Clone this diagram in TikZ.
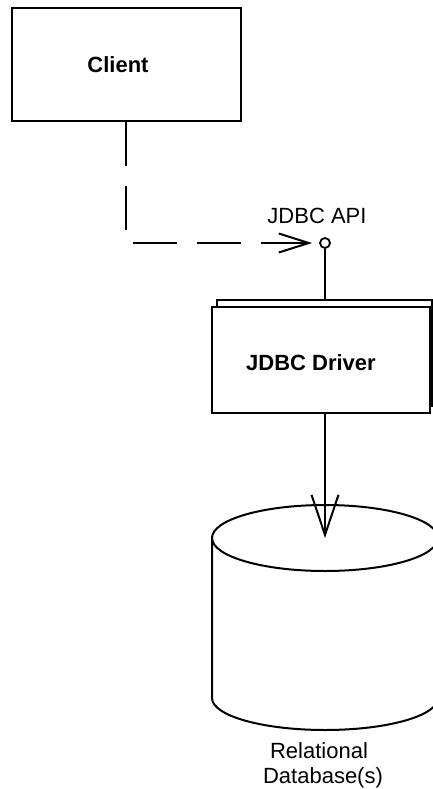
\documentclass[tikz,border=0pt]{standalone}
\usepackage{fontspec}
\setmainfont{Liberation Sans}
\usetikzlibrary{arrows.meta,calc}
\begin{document}
\begin{tikzpicture}[x=1pt,y=1pt,line width=2pt,
  box/.style={draw,rectangle,inner sep=0pt,fill=white},
  lbl/.style={font=\fontsize{22}{25}\selectfont,inner sep=0pt,anchor=base},
  blbl/.style={lbl,font=\fontsize{22}{25}\selectfont\bfseries},
  depend/.style={dash pattern=on 44pt off 20pt,-{Straight Barb[length=30pt,width=19pt]}},
  flow/.style={-{Straight Barb[length=40pt,width=27pt]}}]
\useasboundingbox (0,0) rectangle (433,-789);
\clip (0,0) rectangle (433,-789);
% Client
\node[box,minimum width=229pt,minimum height=113pt] (client) at (126.5,-64.5) {};
\node[blbl] (clienttext) at (118,-73) {Client};
% JDBC Driver (stacked)
\node[box,minimum width=215pt,minimum height=106pt] (driverback) at (324.5,-353) {};
\node[box,minimum width=218pt,minimum height=106pt] (driver) at (321,-360) {};
\node[blbl] (drivertext) at (311,-370) {JDBC Driver};
% interface lollipop
\node[circle,draw,minimum size=10pt,inner sep=0pt,line width=1.8pt] (api) at (325,-243) {};
\node[lbl] (apitext) at (317,-223) {JDBC API};
\draw (api.south) -- (api |- driverback.north);
% dependency
\coordinate (bend) at (126,-243);
\draw[depend,shorten >=7pt] (client.south -| bend) -- (bend) -- (api.west);
% database
\coordinate (dbtop) at (325,-538);
\node[inner sep=0pt,minimum width=226pt,minimum height=225pt] (db) at (325,-618) {};
\draw (212,-538) -- (212,-698) arc[start angle=180,end angle=360,x radius=113,y radius=32] -- (438,-538);
\draw (dbtop) ellipse[x radius=113,y radius=33];
\draw[flow] (driver.south -| api) -- (dbtop);
\node[lbl] (dbtext1) at (319,-758) {Relational};
\node[lbl] (dbtext2) at (323,-783) {Database(s)};
\end{tikzpicture}
\end{document}
